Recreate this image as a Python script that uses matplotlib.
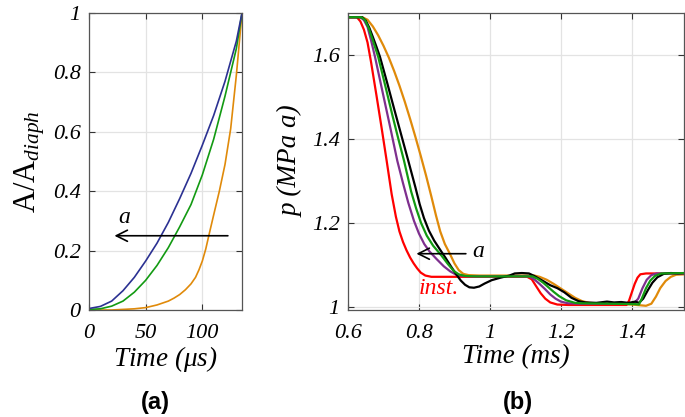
import numpy as np
import matplotlib
matplotlib.use("Agg")
import matplotlib.pyplot as plt
from matplotlib.ticker import FuncFormatter

plt.rcParams["font.family"] = ["Liberation Serif", "DejaVu Serif"]
plt.rcParams["mathtext.fontset"] = "custom"
plt.rcParams["mathtext.rm"] = "Liberation Serif"
plt.rcParams["mathtext.it"] = "Liberation Serif:italic"

# ---------------- panel (a): opening area vs time ----------------
t_blue = [0, 10, 20, 30, 40, 50, 60, 70, 80, 90, 100, 110, 120, 130, 135]
a_blue = [0.005, 0.012, 0.03, 0.065, 0.11, 0.165, 0.225, 0.295, 0.375, 0.46,
          0.555, 0.655, 0.77, 0.905, 1.0]

t_green = [0, 10, 20, 30, 40, 50, 60, 70, 80, 90, 100, 110, 120, 130, 135]
a_green = [0.002, 0.004, 0.013, 0.03, 0.06, 0.1, 0.15, 0.21, 0.28, 0.355,
           0.455, 0.575, 0.72, 0.88, 1.0]

t_orange = [0, 20, 30, 40, 50, 60, 70, 75, 80, 85, 90, 94, 97, 100, 103, 106,
            110, 115, 120, 125, 130, 135]
a_orange = [0.0, 0.0, 0.002, 0.004, 0.008, 0.017, 0.03, 0.04, 0.052, 0.068,
            0.088, 0.11, 0.135, 0.165, 0.205, 0.255, 0.32, 0.40, 0.49, 0.61,
            0.79, 1.0]

# ---------------- panel (b): pressure vs time ----------------
t_red = [0.600, 0.625, 0.635, 0.645, 0.655, 0.665, 0.680, 0.695, 0.709, 0.723,
         0.735, 0.745, 0.755, 0.765, 0.775, 0.785, 0.795, 0.805, 0.818, 0.835,
         1.105, 1.118, 1.130, 1.143, 1.156, 1.170, 1.190, 1.220, 1.385, 1.392,
         1.400, 1.408, 1.416, 1.424, 1.440, 1.550]
p_red = [1.690, 1.690, 1.680, 1.660, 1.630, 1.583, 1.505, 1.425, 1.348, 1.269,
         1.215, 1.180, 1.155, 1.135, 1.118, 1.104, 1.092, 1.082, 1.075, 1.072,
         1.072, 1.066, 1.050, 1.033, 1.020, 1.011, 1.006, 1.005, 1.005, 1.015,
         1.035, 1.055, 1.070, 1.078, 1.080, 1.080]

t_purple = [0.600, 0.635, 0.645, 0.655, 0.665, 0.676, 0.700, 0.720, 0.739, 0.755,
            0.770, 0.786, 0.800, 0.815, 0.830, 0.850, 0.870, 0.888, 0.905, 0.925,
            0.950, 1.110, 1.125, 1.140, 1.155, 1.170, 1.185, 1.200, 1.220, 1.250,
            1.405, 1.418, 1.430, 1.442, 1.455, 1.470, 1.550]
p_purple = [1.690, 1.690, 1.683, 1.667, 1.635, 1.596, 1.502, 1.424, 1.348, 1.295,
            1.248, 1.205, 1.175, 1.150, 1.132, 1.114, 1.097, 1.085, 1.077, 1.074,
            1.073, 1.073, 1.066, 1.055, 1.043, 1.030, 1.020, 1.013, 1.009, 1.008,
            1.008, 1.020, 1.045, 1.065, 1.076, 1.080, 1.080]

t_orange_b = [0.600, 0.640, 0.655, 0.670, 0.685, 0.700, 0.715, 0.730, 0.745, 0.760,
              0.775, 0.790, 0.805, 0.820, 0.835, 0.848, 0.860, 0.873, 0.887, 0.900,
              0.912, 0.925, 0.940, 0.970, 1.125, 1.140, 1.160, 1.180, 1.200, 1.220,
              1.240, 1.260, 1.280, 1.300, 1.400, 1.440, 1.455, 1.468, 1.480, 1.495,
              1.510, 1.525, 1.550]
p_orange_b = [1.690, 1.690, 1.684, 1.668, 1.647, 1.622, 1.594, 1.562, 1.527, 1.489,
              1.448, 1.405, 1.360, 1.313, 1.263, 1.218, 1.180, 1.150, 1.127, 1.104,
              1.088, 1.079, 1.076, 1.075, 1.075, 1.072, 1.065, 1.055, 1.044, 1.033,
              1.022, 1.014, 1.010, 1.009, 1.006, 1.003, 1.008, 1.025, 1.045, 1.062,
              1.072, 1.077, 1.078]

t_black = [0.600, 0.640, 0.650, 0.660, 0.670, 0.680, 0.690, 0.710, 0.730, 0.750,
           0.770, 0.790, 0.802, 0.814, 0.828, 0.843, 0.860, 0.875, 0.890, 0.905,
           0.918, 0.930, 0.942, 0.955, 0.970, 0.985, 1.005, 1.030, 1.055, 1.070,
           1.090, 1.110, 1.125, 1.150, 1.170, 1.190, 1.210, 1.230, 1.250, 1.270,
           1.300, 1.330, 1.350, 1.370, 1.390, 1.410, 1.420, 1.432, 1.445, 1.458,
           1.472, 1.490, 1.510, 1.530, 1.550]
p_black = [1.690, 1.690, 1.682, 1.665, 1.643, 1.620, 1.596, 1.535, 1.472, 1.410,
           1.348, 1.285, 1.245, 1.212, 1.182, 1.158, 1.136, 1.117, 1.097, 1.078,
           1.063, 1.053, 1.047, 1.046, 1.049, 1.056, 1.064, 1.070, 1.075, 1.080,
           1.081, 1.080, 1.074, 1.062, 1.052, 1.045, 1.035, 1.022, 1.014, 1.011,
           1.010, 1.013, 1.011, 1.012, 1.010, 1.013, 1.010, 1.020, 1.040, 1.058,
           1.071, 1.079, 1.081, 1.080, 1.081]

t_green_b = [0.600, 0.638, 0.648, 0.658, 0.670, 0.685, 0.705, 0.725, 0.742, 0.758,
             0.778, 0.792, 0.806, 0.822, 0.840, 0.864, 0.882, 0.898, 0.912, 0.930,
             0.960, 1.120, 1.135, 1.150, 1.165, 1.180, 1.195, 1.215, 1.240, 1.260,
             1.410, 1.420, 1.428, 1.440, 1.452, 1.465, 1.483, 1.550]
p_green_b = [1.690, 1.690, 1.683, 1.665, 1.635, 1.596, 1.527, 1.457, 1.400, 1.348,
             1.275, 1.235, 1.200, 1.170, 1.146, 1.122, 1.102, 1.086, 1.078, 1.074,
             1.073, 1.073, 1.067, 1.058, 1.047, 1.036, 1.026, 1.016, 1.010, 1.009,
             1.007, 1.006, 1.020, 1.045, 1.063, 1.074, 1.080, 1.081]

RED = "#ff0000"
PURPLE = "#7e2f8e"
GREEN = "#129a12"
ORANGE = "#e08a0a"
BLUE = "#2b3192"

W, H = 685, 417
fig = plt.figure(figsize=(W / 100, H / 100), dpi=100)

ax1 = fig.add_axes([89 / W, 1 - 310 / H, (242 - 89) / W, (310 - 13) / H])
ax2 = fig.add_axes([348 / W, 1 - 310 / H, (684 - 348) / W, (310 - 13) / H])

fmt = FuncFormatter(lambda v, pos: "%g" % v)

for ax in (ax1, ax2):
    ax.grid(True, color="#e3e3e3", linewidth=0.9)
    ax.set_axisbelow(True)
    ax.tick_params(direction="in", top=True, right=True, length=4,
                   width=0.8, color="#333333", labelsize=16, pad=6)
    ax.tick_params(axis="x", pad=10)
    for s in ax.spines.values():
        s.set_color("#555555")
        s.set_linewidth(0.9)
    ax.xaxis.set_major_formatter(fmt)
    ax.yaxis.set_major_formatter(fmt)

# panel (a)
ax1.plot(t_orange, a_orange, color=ORANGE, lw=1.2)
ax1.plot(t_green, a_green, color=GREEN, lw=1.2)
ax1.plot(t_blue, a_blue, color=BLUE, lw=1.2)
ax1.set_xlim(0, 135)
ax1.set_ylim(0, 1)
ax1.set_xticks([0, 50, 100])
ax1.set_yticks([0, 0.2, 0.4, 0.6, 0.8, 1])
ax1.annotate("", xy=(20, 0.25), xytext=(125, 0.25),
             arrowprops=dict(arrowstyle="->", color="black", lw=1.2,
                             mutation_scale=20))
ax1.text(31, 0.31, "a", fontsize=17, fontstyle="italic", ha="center", va="center")
ax1.set_xlabel("Time ($\\mu$s)", fontsize=19.5, fontstyle="italic", labelpad=1)
ax1.set_ylabel("$\\mathrm{A/A}_{diaph}$", fontsize=22, labelpad=4)

# panel (b)
ax2.plot(t_orange_b, p_orange_b, color=ORANGE, lw=1.6)
ax2.plot(t_red, p_red, color=RED, lw=1.6)
ax2.plot(t_purple, p_purple, color=PURPLE, lw=1.6)
ax2.plot(t_black, p_black, color="black", lw=1.6)
ax2.plot(t_green_b, p_green_b, color=GREEN, lw=1.6)
ax2.set_xlim(0.6, 1.547)
ax2.set_ylim(0.993, 1.7)
ax2.set_xticks([0.6, 0.8, 1, 1.2, 1.4])
ax2.set_yticks([1, 1.2, 1.4, 1.6])
ax2.annotate("", xy=(0.785, 1.127), xytext=(0.94, 1.127),
             arrowprops=dict(arrowstyle="->", color="black", lw=1.2,
                             mutation_scale=20))
ax2.text(0.95, 1.133, "a", fontsize=17, fontstyle="italic", ha="left", va="center")
ax2.text(0.80, 1.045, "inst.", fontsize=17, fontstyle="italic", color=RED,
         ha="left", va="center")
ax2.set_xlabel("Time (ms)", fontsize=19.5, fontstyle="italic", labelpad=1)
ax2.set_ylabel("p (MPa a)", fontsize=19.5, fontstyle="italic", labelpad=6)

for ax in (ax1, ax2):
    for lab in ax.get_xticklabels() + ax.get_yticklabels():
        lab.set_fontstyle("italic")

fig.text(155 / W, 1 - 403 / H, "(a)", fontsize=17, fontweight="bold",
         family="Liberation Sans", ha="center", va="center")
fig.text(518 / W, 1 - 403 / H, "(b)", fontsize=17, fontweight="bold",
         family="Liberation Sans", ha="center", va="center")

fig.savefig("out.png", dpi=100)
